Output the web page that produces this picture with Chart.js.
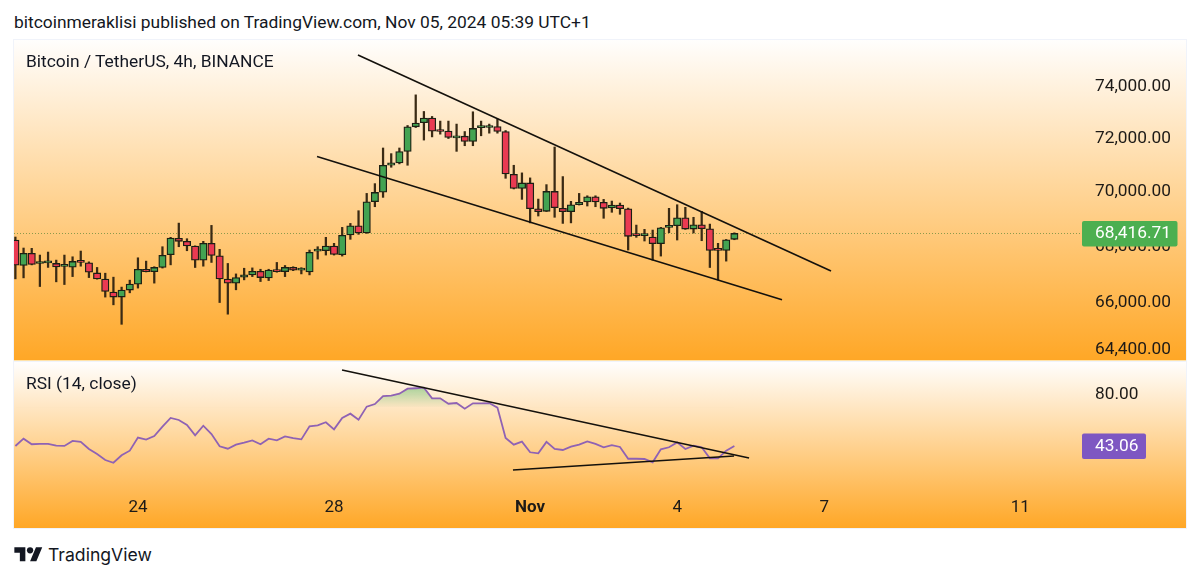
<!DOCTYPE html>
<html>
<head>
<meta charset="utf-8">
<title>BTCUSDT 4h</title>
<script src="https://cdn.jsdelivr.net/npm/chart.js@4"></script>
<style>
    html, body { margin: 0; padding: 0; background: #fff; width: 1200px; height: 579px; overflow: hidden; }
    body { font-family: Roboto, sans-serif; color: #131722; position: relative; }
    .header { position: absolute; left: 14px; top: 12px; font-size: 17.4px; line-height: 20px; white-space: nowrap; }
    .pane { position: absolute; left: 14px; width: 1172px; background: linear-gradient(#fffefd, #ffa726); box-shadow: 0 0 0 1px #f0f3fa; }
    #pricePane { top: 40px; height: 320px; }
    #rsiPane { top: 362px; height: 166px; }
    .sep { position: absolute; left: 14px; width: 1172px; height: 2px; background: #ffe2a8; }
    .pane canvas { position: absolute; left: 0; top: 0; }
    .pane .label { position: absolute; left: 12px; font-size: 17.4px; line-height: 20px; white-space: nowrap; }
    #priceLabel { top: 11px; }
    #rsiLabel { top: 11px; }
    .logo { position: absolute; left: 14px; top: 544px; }
    .brand { position: absolute; left: 48px; top: 544px; font-family: Inter, sans-serif; font-size: 17.6px; line-height: 22px; }
</style>
</head>
<body>
<div class="header">bitcoinmeraklisi published on TradingView.com, Nov 05, 2024 05:39 UTC+1</div>
<div class="pane" id="pricePane">
    <canvas id="priceChart" width="1172" height="320"></canvas>
    <div class="label" id="priceLabel">Bitcoin / TetherUS, 4h, BINANCE</div>
</div>
<div class="sep" style="top:360px"></div>
<div class="pane" id="rsiPane">
    <canvas id="rsiChart" width="1172" height="166"></canvas>
    <div class="label" id="rsiLabel">RSI (14, close)</div>
</div>
<svg class="logo" width="29" height="22" viewBox="0 0 36 28"><path fill="#131722" d="M14 22H7V11H0V4h14v18zM28 22h-8l7.5-18h8L28 22z"/><circle fill="#131722" cx="20" cy="8" r="4"/></svg>
<div class="brand">TradingView</div>

<script>
// candles are 4h bars, index 0 is the first one on the left edge
const opens = [68180,67269,67701,67340,67363,67341,67240,67208,67413,67363,67005,66785,66330,66155,66400,66610,67136,67050,67199,67651,68241,68133,67964,67460,68061,67615,66785,66645,66855,66935,67065,66830,67120,67050,67199,67105,67040,67780,67795,67964,67651,68360,68695,68432,69573,69927,70927,71016,71450,72383,72537,72718,72217,72217,71962,72025,71824,72350,72356,72395,72202,70590,70066,70268,69317,69222,69953,69332,69208,69463,69562,69755,69550,69343,69452,69317,68349,68340,68288,68047,68637,68695,68983,68576,68731,68587,67820,67809,68205];
const highs = [68288,67892,67881,67640,67748,67460,67640,67579,67784,67399,67199,66995,66855,66505,66750,67543,67424,67224,67939,68277,68792,68227,67970,68133,68709,67845,67341,66970,67171,67183,67135,67135,67377,67269,67224,67190,67820,67939,68277,68061,68637,68781,69244,69880,70242,71577,71364,71577,72433,73615,72972,72780,72602,72602,72487,72202,72960,72602,72487,72680,72240,70927,70642,70455,69671,70205,71615,70504,69588,69880,69792,69792,69660,69598,69525,69340,68720,68565,68540,68637,69332,69463,69368,69004,69222,68756,68061,68200,68440];
const lows = [66795,66830,67290,66525,67200,66690,66595,66875,67244,66840,66785,66155,65885,65210,66305,66470,67040,66645,67177,67291,67939,67795,67197,67244,67377,65965,65560,66410,66760,66875,66700,66735,67030,66875,67085,66970,66935,67496,67640,67640,67604,68205,68385,68420,69390,69734,70852,70979,70927,72356,71877,71998,72102,71936,71450,71663,71663,72040,72140,72140,70440,70045,69660,68800,69050,69215,69004,68781,68800,69452,69416,69390,68967,69186,69113,67820,68277,68144,67460,67604,68443,68180,68565,68432,68155,67197,66760,67424,68190];
const closes = [67280,67701,67305,67350,67375,67219,67250,67413,67377,67030,66795,66350,66155,66400,66610,67136,67050,67199,67629,68252,68133,67964,67460,68061,67629,66795,66645,66840,66935,67065,66840,67110,67050,67199,67105,67110,67737,67790,67964,67665,68349,68695,68432,69573,69916,70927,71016,71439,72383,72525,72718,72217,72205,71974,72025,71824,72321,72360,72395,72202,70605,70066,70268,69317,69208,69953,69354,69208,69463,69550,69755,69562,69332,69452,69317,68313,68340,68350,68047,68623,68695,68983,68576,68731,68587,67809,67810,68191,68417];

const rsiValues = [43.1,48.2,44.3,44.5,44.5,43.3,43.1,46.6,45.9,41.0,37.5,33.3,31.4,36.6,39.8,48.9,47.5,50.0,56.5,62.6,61.2,57.7,50.5,57.2,51.4,42.9,41.2,44.0,45.4,47.0,44.3,48.2,47.0,49.8,48.6,47.7,56.8,57.5,59.6,54.7,62.6,65.6,61.4,70.5,72.3,77.9,78.1,79.5,83.0,83.3,83.7,76.3,76.3,72.5,73.0,69.1,72.8,72.8,73.0,69.8,48.6,44.0,46.1,38.7,38.0,45.9,41.0,40.3,42.6,44.0,46.3,44.5,42.2,43.6,42.4,34.2,34.2,34.0,31.7,40.8,42.2,45.6,41.0,43.3,42.2,34.5,34.5,39.8,43.06];

// hand drawn trend lines as [bar index, value]
const priceUpperLine = [[41.93, 75180], [99.83, 67075]];
const priceLowerLine = [[36.92, 71252], [93.83, 66060]];
const rsiUpperLine = [[39.98, 96.03], [89.8, 34.7]];
const rsiLowerLine = [[60.9, 26.34], [87.96, 36.1]];

const priceTicks = [74000, 72000, 70000, 68000, 66000, 64400];
const rsiTicks = [80];
const timeTickIndex = [15, 39, 63, 81, 99, 123];
const timeTickLabels = ['24', '28', 'Nov', '4', '7', '11'];

const lastPrice = 68416.71;
const lastRsi = 43.06;

const TEXT_COLOR = '#1d1a17';
const GREEN = '#43a352';
const RED = '#ea3a52';
const EDGE = '#1c1f14';
const WICK = '#3a2a14';
const PURPLE = '#7e57c2';
const AXIS_WIDTH = 103;
const X_MIN = -0.17;
const X_MAX = 130.67;

function money(v) {
    return v.toLocaleString('en-US', { minimumFractionDigits: 2, maximumFractionDigits: 2 });
}

function toPoints(line) {
    return line.map(p => ({ x: p[0], y: p[1] }));
}

function trendDataset(line) {
    return {
        type: 'line',
        data: toPoints(line),
        borderColor: '#14110c',
        borderWidth: 1.6,
        pointRadius: 0,
        order: 0
    };
}

// fixed width value axis on the right, labels start at the same x in both panes
function valueAxis(extra, tickValues) {
    return Object.assign({
        position: 'right',
        bounds: 'data',
        grid: { display: false, drawTicks: false },
        border: { display: false },
        afterFit: s => {
            // labels may not push the plot area in, the pane is exact
            s.width = AXIS_WIDTH;
            s.paddingTop = 0;
            s.paddingBottom = 0;
        },
        afterBuildTicks: s => { s.ticks = tickValues.map(v => ({ value: v })); },
        ticks: {
            autoSkip: false,
            crossAlign: 'near',
            padding: 12,
            labelOffset: 1.5,
            color: TEXT_COLOR,
            font: { family: 'Roboto', size: 17.3 },
            callback: v => money(v)
        }
    }, extra);
}

// badge with the last value, sits on top of the axis labels
function badgePlugin(scaleId, value, color, width) {
    return {
        id: 'badge' + scaleId,
        afterDraw(chart) {
            const ctx = chart.ctx;
            const y = chart.scales[scaleId].getPixelForValue(value);
            const left = chart.chartArea.right - 1;
            ctx.save();
            ctx.fillStyle = color;
            ctx.beginPath();
            ctx.roundRect(left, y - 12.5, width, 25.5, 2);
            ctx.fill();
            ctx.fillStyle = '#ffffff';
            ctx.font = '17.3px Roboto';
            ctx.textAlign = 'left';
            ctx.textBaseline = 'middle';
            ctx.fillText(money(value), left + 13, y + 0.5);
            ctx.restore();
        }
    };
}

const lastPriceLine = {
    id: 'lastPriceLine',
    beforeDatasetsDraw(chart) {
        const ctx = chart.ctx;
        const y = Math.round(chart.scales.y.getPixelForValue(lastPrice)) + 0.5;
        ctx.save();
        ctx.strokeStyle = '#8c9a4a';
        ctx.lineWidth = 1;
        ctx.setLineDash([1, 2]);
        ctx.beginPath();
        ctx.moveTo(chart.chartArea.left, y);
        ctx.lineTo(chart.chartArea.right, y);
        ctx.stroke();
        ctx.restore();
    }
};

new Chart(document.getElementById('priceChart'), {
    type: 'bar',
    data: {
        datasets: [
            {
                data: lows.map((l, i) => ({ x: i, y: [l, highs[i]] })),
                backgroundColor: WICK,
                barThickness: 1.6,
                grouped: false,
                order: 3
            },
            {
                data: opens.map((o, i) => ({ x: i, y: [o, closes[i]] })),
                backgroundColor: c => closes[c.dataIndex] >= opens[c.dataIndex] ? GREEN : RED,
                borderColor: EDGE,
                borderWidth: 1.3,
                borderSkipped: false,
                barThickness: 7.4,
                minBarLength: 2,
                grouped: false,
                order: 2
            },
            trendDataset(priceUpperLine),
            trendDataset(priceLowerLine)
        ]
    },
    options: {
        responsive: false,
        animation: false,
        layout: { padding: 0 },
        plugins: { legend: { display: false }, tooltip: { enabled: false } },
        scales: {
            x: { type: 'linear', min: X_MIN, max: X_MAX, offset: false, display: false },
            y: valueAxis({ type: 'logarithmic', min: 63992, max: 75780 }, priceTicks)
        }
    },
    plugins: [lastPriceLine, badgePlugin('y', lastPrice, '#4caf50', 95.5)]
});

const rsiCanvas = document.getElementById('rsiChart');
const overbought = rsiCanvas.getContext('2d').createLinearGradient(0, 24, 0, 46);
overbought.addColorStop(0, 'rgba(76,175,80,0.5)');
overbought.addColorStop(1, 'rgba(76,175,80,0)');

new Chart(rsiCanvas, {
    type: 'line',
    data: {
        datasets: [
            {
                data: rsiValues.map((v, i) => ({ x: i, y: v })),
                borderColor: '#8f62b4',
                borderWidth: 1.8,
                pointRadius: 0,
                tension: 0,
                fill: { target: { value: 70 }, above: overbought, below: 'transparent' },
                order: 1
            },
            trendDataset(rsiUpperLine),
            trendDataset(rsiLowerLine)
        ]
    },
    options: {
        responsive: false,
        animation: false,
        layout: { padding: 0 },
        plugins: { legend: { display: false }, tooltip: { enabled: false } },
        scales: {
            x: {
                type: 'linear',
                min: X_MIN,
                max: X_MAX,
                offset: false,
                grid: { display: false, drawTicks: false },
                border: { display: false },
                afterFit: s => {
                    s.height = 42;
                    s.paddingLeft = 0;
                    s.paddingRight = 0;
                },
                afterBuildTicks: s => { s.ticks = timeTickIndex.map(v => ({ value: v })); },
                ticks: {
                    autoSkip: false,
                    maxRotation: 0,
                    padding: 12,
                    color: TEXT_COLOR,
                    font: c => ({
                        family: 'Roboto',
                        size: 17,
                        weight: timeTickLabels[c.index] === 'Nov' ? 'bold' : 'normal'
                    }),
                    callback: (v, i) => timeTickLabels[i]
                }
            },
            y: valueAxis({ type: 'linear', min: 15.2, max: 101.6 }, rsiTicks)
        }
    },
    plugins: [badgePlugin('y', lastRsi, PURPLE, 64)]
});
</script>
</body>
</html>
